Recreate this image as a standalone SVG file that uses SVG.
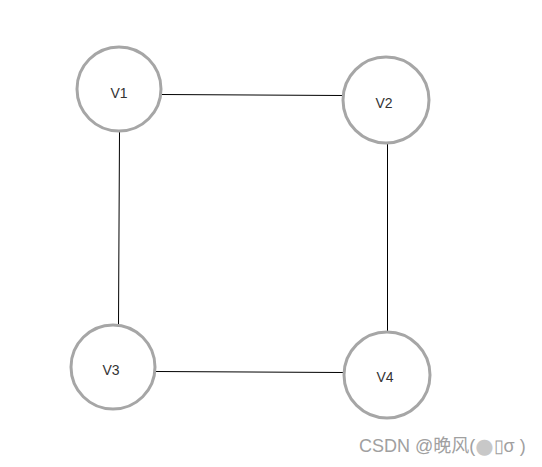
<svg xmlns="http://www.w3.org/2000/svg" width="542" height="467" viewBox="0 0 542 467">
<style>
.node circle{fill:#fff;stroke:#a6a6a6;stroke-width:3}
.node text{font-family:"Liberation Sans","Noto Sans",sans-serif;font-size:14px;fill:#333;text-anchor:middle;dominant-baseline:central}
.edges line{stroke:#000;stroke-width:1}
.wm{font-family:"Liberation Sans","Noto Sans CJK SC",sans-serif;font-size:18px;fill:#a0a0a0}
.big{font-family:"DejaVu Sans",sans-serif;font-size:21px;fill:#c8c8c8}
</style>
<rect width="542" height="467" fill="#fff"/>
<g class="edges" id="edges">
<line x1="162" y1="94.5" x2="343" y2="95.5"/>
<line x1="119.5" y1="132" x2="118.5" y2="325"/>
<line x1="387.5" y1="143" x2="387.5" y2="332"/>
<line x1="156" y1="371.5" x2="343" y2="372.5"/>
</g>
<g class="node" id="v1"><circle cx="119" cy="89" r="42"/><text x="119" y="93">V1</text></g>
<g class="node" id="v2"><circle cx="386" cy="100" r="43"/><text x="384" y="103">V2</text></g>
<g class="node" id="v3"><circle cx="113" cy="367" r="42"/><text x="111" y="370">V3</text></g>
<g class="node" id="v4"><circle cx="387" cy="375" r="43"/><text x="385" y="377">V4</text></g>
<text class="wm" x="359" y="452">CSDN @晚风(<tspan class="big" dy="1">●</tspan><tspan dy="-1">▯σ )</tspan></text>
</svg>
